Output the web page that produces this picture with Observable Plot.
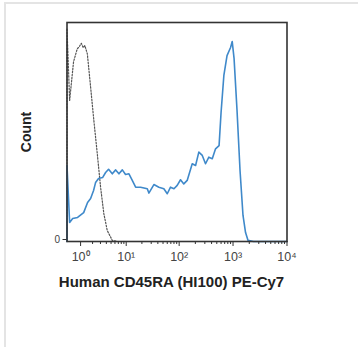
<!DOCTYPE html>
<html><head><meta charset="utf-8">
<script src="https://cdn.jsdelivr.net/npm/d3@7"></script>
<script src="https://cdn.jsdelivr.net/npm/@observablehq/plot@0.6"></script>
<style>
body{margin:0;background:#fff;font-family:"Liberation Sans",Arial,sans-serif;}
#wrap{position:relative;width:358px;height:347px;overflow:hidden;}
#border{position:absolute;left:4px;top:2px;right:-10px;bottom:-10px;border-top:2px solid #e4e4e4;border-left:2px solid #e4e4e4;}
#chart{position:absolute;left:0;top:0;}
#xlabel{position:absolute;left:0;width:343px;top:273px;text-align:center;font-size:15px;font-weight:bold;color:#222;white-space:nowrap;}
#ylabel{position:absolute;left:26px;top:132px;transform:translate(-50%,-50%) rotate(-90deg);font-size:14px;font-weight:bold;color:#222;white-space:nowrap;}
</style></head>
<body><div id="wrap"><div id="border"></div><div id="chart"></div><div id="ylabel">Count</div><div id="xlabel">Human CD45RA (HI100) PE-Cy7</div></div>
<script>
// Stained sample (blue) histogram
const blueX = [0.34,0.34,0.44,0.57,0.82,1.21,1.52,1.80,2.11,2.34,2.73,3.33,3.86,4.45,5.3,6.2,7.2,8.4,9.7,11.3,13.1,15.2,18.9,25.3,27.1,33.7,41.8,51.8,60,69,80,92,106,122,141,175,202,232,269,309,356,412,474,551,600,676,774,900,966,1045,1186,1348,1531,1706,1897,2400,10000];
const blueY = [0,34.7,8.7,10.5,11.0,13.2,17.8,19.6,23.3,26.9,28.8,29.2,31.5,33.0,30.9,32.7,30.9,32.7,30.6,30.9,27.9,24.8,24.8,24.1,22.1,26.0,24.8,24.1,21.8,24.8,24.1,25.6,28.2,26.3,27.9,35.5,34.7,40.8,39.3,35.5,38.5,37.8,42.3,43.8,58.9,75.8,84.9,88.6,91.3,83.6,59.8,32.4,11.9,4.1,0.5,0,0];
// Isotype control (dotted) histogram
const isoX = [0.34,0.34,0.44,0.61,0.80,0.895,1.045,1.18,1.30,1.5,1.80,2.14,2.56,3.02,3.55,4.18,5.3,6.7,10];
const isoY = [0,97.3,64.4,82,88,88.7,90.5,88.5,89.5,85.7,70.5,55.3,40,24.8,12.6,5.0,0.5,0,0];
// Axis ticks
const majorTicks = [1,10,100,1000,10000];
const xTickLabels = ["10\u2070","10\u00b9","10\u00b2","10\u00b3","10\u2074"];
const minorTicks = [2,3,4,5,6,7,8,9,20,30,40,50,60,70,80,90,200,300,400,500,600,700,800,900,2000,3000,4000,5000,6000,7000,8000,9000];
const yTicks = [0];

const blue = blueX.map((x,i)=>({x, y: blueY[i]}));
const iso = isoX.map((x,i)=>({x, y: isoY[i]}));

const chart = Plot.plot({
  width: 358, height: 300,
  marginLeft: 66.5, marginRight: 71.5, marginTop: 22, marginBottom: 59,
  style: {fontFamily: "'Liberation Sans', Arial, sans-serif", background: "transparent"},
  x: {type: "symlog", constant: 0.5, domain: [0.34, 10000]},
  y: {domain: [0, 100]},
  marks: [
    Plot.line(iso, {x: "x", y: "y", stroke: "#555", strokeWidth: 1.2, strokeDasharray: "1.5,1.6"}),
    Plot.line(blue, {x: "x", y: "y", stroke: "#3f89ca", strokeWidth: 1.6}),
    Plot.frame({stroke: "#333", strokeWidth: 1.6}),
    Plot.axisX(minorTicks, {tickSize: 3, tickFormat: () => "", label: null, stroke: "#333"}),
    Plot.axisX(majorTicks, {tickSize: 5, tickPadding: 6, tickFormat: d => xTickLabels[majorTicks.indexOf(d)], fontSize: 12.5, fill: "#444", stroke: "#333", label: null}),
    Plot.axisY(yTicks, {tickSize: 4, tickPadding: 3, fontSize: 10, fill: "#444", stroke: "#333", label: null, dy: -2})
  ]
});
document.getElementById("chart").appendChild(chart);
</script>
</body></html>
